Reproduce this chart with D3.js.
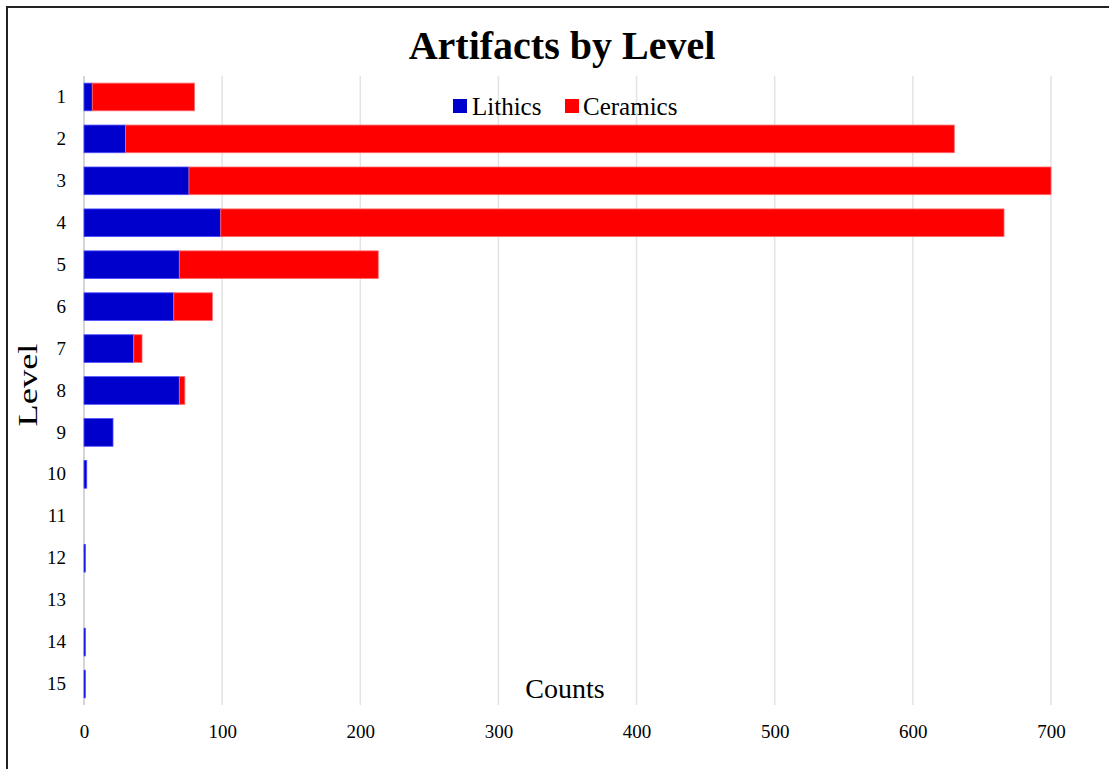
<!DOCTYPE html>
<html>
<head>
<meta charset="utf-8">
<script src="https://cdn.jsdelivr.net/npm/d3@7"></script>
<style>
    body { margin: 0; background: #fff; }
    text { font-family: "Liberation Serif", "Times New Roman", serif; fill: #000; }
    .grid { stroke: #e3e3e3; stroke-width: 1.5; }
    .baseline { stroke: #c8c8c8; stroke-width: 1.5; }
</style>
</head>
<body>
<svg id="chart" width="1109" height="769"></svg>
<script>
// values
const levels = ['1', '2', '3', '4', '5', '6', '7', '8', '9', '10', '11', '12', '13', '14', '15'];
const lithics = [6, 30, 76, 99, 69, 65, 36, 69, 21, 2, 0, 1, 0, 1, 1];
const ceramics = [74, 600, 624, 567, 144, 28, 6, 4, 0, 0, 0, 0, 0, 0, 0];
const seriesNames = ['Lithics', 'Ceramics'];
const seriesColors = ['#0000cc', '#ff0000'];
const xTicks = [0, 100, 200, 300, 400, 500, 600, 700];

/** Class implementing the stacked bar view. */
class StackedBars {
    constructor() {
        this.svg = d3.select('svg#chart');
        this.x = d3.scaleLinear().domain([0, 700]).range([84, 1051]);
        this.y = d3.scaleBand().domain(levels).range([76, 705])
            .paddingInner(0.34).paddingOuter(0.17);
    }

    drawFrame() {
        // border of the chart area, open to the right and bottom
        this.svg.append('rect')
            .attr('x', 7).attr('y', 7)
            .attr('width', 1200).attr('height', 800)
            .attr('fill', 'none')
            .attr('stroke', '#222')
            .attr('stroke-width', 2);

        this.svg.append('text')
            .attr('x', 562).attr('y', 59)
            .attr('text-anchor', 'middle')
            .style('font-size', '40px')
            .style('font-weight', 'bold')
            .text('Artifacts by Level');
    }

    drawAxes() {
        let x = this.x;
        let grid = this.svg.append('g');
        grid.selectAll('line')
            .data(xTicks.slice(1))
            .enter()
            .append('line')
            .attr('class', 'grid')
            .attr('x1', d => x(d)).attr('x2', d => x(d))
            .attr('y1', 76).attr('y2', 705);

        let xAxis = d3.axisBottom(x).tickValues(xTicks).tickSize(0).tickPadding(0);
        let gx = this.svg.append('g')
            .attr('transform', 'translate(0,738)')
            .call(xAxis);
        gx.select('.domain').remove();
        gx.selectAll('text')
            .attr('dy', 0)
            .style('font-size', '19px')
            .style('font-family', '"Liberation Serif", serif')
            .attr('fill', '#000');

        let yAxis = d3.axisLeft(this.y).tickSize(0).tickPadding(0);
        let gy = this.svg.append('g')
            .attr('transform', 'translate(66,0)')
            .call(yAxis);
        gy.select('.domain').remove();
        gy.selectAll('text')
            .attr('dy', '0.32em')
            .style('font-size', '19px')
            .style('font-family', '"Liberation Serif", serif')
            .attr('fill', '#000');

        this.svg.append('text')
            .attr('x', 565).attr('y', 698)
            .attr('text-anchor', 'middle')
            .style('font-size', '28px')
            .text('Counts');

        this.svg.append('text')
            .attr('transform', 'translate(37,385) rotate(-90)')
            .attr('text-anchor', 'middle')
            .style('font-size', '28px')
            .attr('textLength', 83)
            .attr('lengthAdjust', 'spacingAndGlyphs')
            .text('Level');
    }

    drawBars() {
        let x = this.x;
        let y = this.y;
        let rows = levels.map((lv, i) => ({level: lv, Lithics: lithics[i], Ceramics: ceramics[i]}));
        let stacked = d3.stack().keys(seriesNames)(rows);

        this.svg.append('line')
            .attr('class', 'baseline')
            .attr('x1', x(0)).attr('x2', x(0))
            .attr('y1', 76).attr('y2', 705);

        this.svg.append('g')
            .selectAll('g')
            .data(stacked)
            .enter()
            .append('g')
            .attr('fill', (d, i) => seriesColors[i])
            .attr('stroke', (d, i) => i === 0 ? '#4d4dff' : '#ff6b6b')
            .attr('stroke-width', 0.8)
            .selectAll('rect')
            .data(d => d.filter(p => p[1] > p[0]))
            .enter()
            .append('rect')
            .attr('x', d => x(d[0]))
            .attr('y', d => y(d.data.level))
            .attr('width', d => x(d[1]) - x(d[0]))
            .attr('height', y.bandwidth());
    }

    drawLegend() {
        let items = [{name: 'Lithics', sx: 453, tx: 472}, {name: 'Ceramics', sx: 565, tx: 583}];
        let leg = this.svg.append('g');
        items.forEach((it, i) => {
            leg.append('rect')
                .attr('x', it.sx).attr('y', 99)
                .attr('width', 14).attr('height', 14)
                .attr('fill', seriesColors[i]);
            leg.append('text')
                .attr('x', it.tx).attr('y', 115)
                .style('font-size', '25px')
                .text(it.name);
        });
    }
}

let chart = new StackedBars();
chart.drawFrame();
chart.drawAxes();
chart.drawBars();
chart.drawLegend();
</script>
</body>
</html>
